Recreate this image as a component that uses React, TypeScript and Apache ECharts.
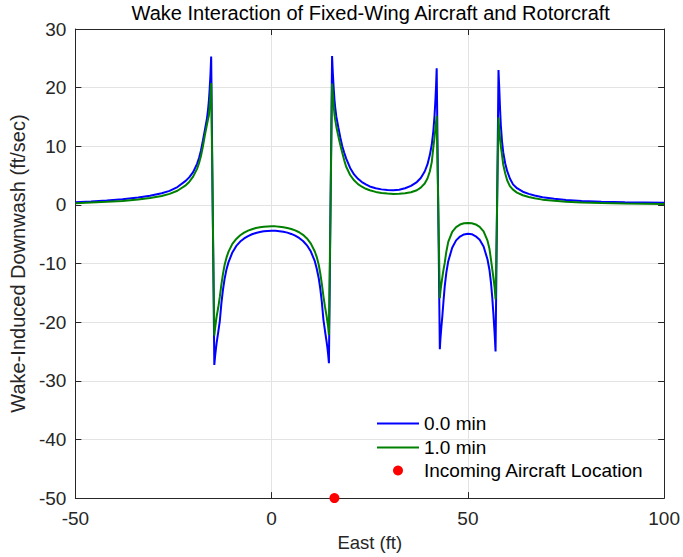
import React, { useEffect, useRef } from "react";
import * as echarts from "echarts";

// East position of each sample (ft)
const eastFt = [
  -50, -46, -42, -38, -34, -31, -28, -26, -24, -22, -21, -20, -19, -18.5, -18, -17.5, -17, -16.5, -16.2, -16, -15.8, -15.6, -15.5, -15.4,
  -14.6, -14.4, -14.2, -14.0, -13.6, -13.2, -12.8, -12.4, -12, -11.5, -11,
  -10, -9, -8, -7, -6, -5, -4, -3, -2, -1, 0, 1, 2, 3, 4, 5, 6, 7, 8, 9, 10,
  11, 11.5, 12, 12.4, 12.8, 13.2, 13.6, 14.0, 14.2, 14.4, 14.6,
  15.4, 15.5, 15.6, 15.8, 16.0, 16.2, 16.5, 17, 17.5, 18, 18.5, 19,
  20, 21, 22, 23, 24, 25,
  26.5, 28, 29.5, 31, 32.5, 34, 35.5, 37, 38, 39,
  39.7, 40.3, 40.8, 41.2, 41.5, 41.75, 41.9, 42.05,
  42.85, 43.0, 43.2, 43.5, 43.8, 44.1, 44.5, 45,
  46, 47, 48, 49, 50, 51, 52, 53, 54, 55,
  55.5, 55.9, 56.2, 56.5, 56.8, 57.05,
  57.8, 57.9, 58.0, 58.2, 58.4, 58.7, 59.0, 59.5, 60, 60.7, 61.5, 62.5,
  64, 65.5, 67, 69, 72, 75, 79, 84, 90, 95, 100,
];

// Wake-induced downwash at t = 0.0 min (ft/sec)
const downwash0 = [
  0.45, 0.58, 0.74, 0.95, 1.25, 1.55, 2.0, 2.4, 3.05, 4.05, 4.7, 5.6, 7.0, 8.0, 9.3, 11.0, 12.8, 14.6, 16.2, 17.6, 19.6, 22.0, 23.6, 25.3,
  -27.3, -25.8, -24.6, -23.5, -21.7, -19.8, -16.8, -14.5, -12.7, -11.0, -9.8,
  -8.1, -7.0, -6.25, -5.72, -5.32, -5.0, -4.78, -4.62, -4.5, -4.43, -4.41, -4.42, -4.48, -4.58, -4.73, -4.95, -5.24, -5.63, -6.15, -6.89, -7.96,
  -9.6, -10.9, -12.5, -14.3, -16.6, -19.6, -21.5, -23.3, -24.3, -25.5, -27.0,
  25.4, 23.8, 22.4, 20.0, 18.0, 16.6, 15.0, 13.2, 11.5, 10.0, 8.9, 7.9,
  6.3, 5.2, 4.45, 3.9, 3.5, 3.15,
  2.85, 2.65, 2.55, 2.52, 2.6, 2.85, 3.25, 3.9, 4.6, 5.7,
  6.9, 8.5, 10.3, 12.6, 15.2, 18.2, 20.4, 23.3,
  -24.6, -22.9, -21.2, -18.9, -16.3, -13.9, -11.6, -9.6,
  -7.3, -6.05, -5.4, -5.03, -4.9, -5.0, -5.35, -5.95, -7.1, -9.3,
  -11.1, -13.4, -15.7, -18.6, -21.8, -25.0,
  23.0, 21.3, 19.8, 16.3, 13.5, 10.8, 9.0, 7.1, 5.8, 4.5, 3.5, 2.85,
  2.25, 1.88, 1.6, 1.32, 1.05, 0.85, 0.68, 0.56, 0.47, 0.42, 0.38,
];

// Wake-induced downwash at t = 1.0 min (ft/sec)
const downwash1 = [
  0.28, 0.4, 0.52, 0.68, 0.92, 1.17, 1.53, 1.88, 2.42, 3.28, 3.92, 4.82, 6.15, 7.1, 8.35, 10.0, 11.9, 13.6, 14.6, 15.2, 16.6, 18.6, 19.8, 20.8,
  -22.3, -21.0, -20.0, -19.0, -17.5, -15.7, -13.6, -11.8, -10.3, -9.0, -8.0,
  -6.65, -5.8, -5.18, -4.72, -4.38, -4.14, -3.95, -3.82, -3.73, -3.67, -3.65, -3.66, -3.71, -3.8, -3.93, -4.1, -4.34, -4.66, -5.1, -5.71, -6.6,
  -7.95, -8.9, -10.2, -11.7, -13.5, -15.6, -17.4, -18.9, -19.9, -20.8, -22.2,
  20.7, 19.8, 18.8, 17.0, 15.5, 14.5, 13.3, 11.7, 10.2, 8.9, 7.6, 6.5,
  5.1, 4.2, 3.55, 3.1, 2.75, 2.5,
  2.22, 2.05, 1.93, 1.88, 1.9, 1.98, 2.15, 2.5, 2.95, 3.65,
  4.5, 5.7, 7.3, 9.8, 11.5, 13.2, 14.2, 15.2,
  -15.9, -14.8, -13.7, -12.3, -11.0, -9.9, -8.0, -6.3,
  -4.6, -3.78, -3.35, -3.14, -3.08, -3.13, -3.33, -3.74, -4.5, -6.1,
  -7.5, -9.4, -10.9, -12.4, -14.0, -16.1,
  14.9, 13.7, 12.8, 11.3, 10.0, 8.5, 6.9, 5.4, 4.2, 3.2, 2.6, 2.1,
  1.65, 1.35, 1.12, 0.9, 0.7, 0.55, 0.43, 0.33, 0.25, 0.2, 0.16,
];

// Incoming aircraft position [east ft, downwash ft/sec]
const aircraftEast = [16];
const aircraftLevel = [-50];

const seriesNames = ["0.0 min", "1.0 min", "Incoming Aircraft Location"];

const FONT = "'Liberation Sans', Arial, Helvetica, sans-serif";
const INK = "#262626";
const GRID_LINE = "#e3e3e3";

export default function App() {
  const ref = useRef<HTMLDivElement>(null);

  useEffect(() => {
    if (!ref.current) return;
    const chart = echarts.init(ref.current, undefined, { renderer: "svg" });

    const line0 = eastFt.map((x, i) => [x, downwash0[i]]);
    const line1 = eastFt.map((x, i) => [x, downwash1[i]]);
    const marker = aircraftEast.map((x, i) => [x, aircraftLevel[i]]);

    const gridLeft = 73;
    const gridRight = 14.5;
    const gridTop = 29;
    const gridBottom = 58.5;
    const plotCenterX = gridLeft + (683 - gridLeft - gridRight) / 2;

    const frameAxis = {
      axisLine: { show: true, onZero: false, lineStyle: { color: INK, width: 1 } },
      axisTick: { show: true, inside: true, length: 6, lineStyle: { color: INK } },
      axisLabel: { show: false },
      splitLine: { show: false },
    };

    const legendText = { fontFamily: FONT, fontSize: 19, color: "#000" };

    chart.setOption({
      animation: false,
      backgroundColor: "#ffffff",
      grid: { left: gridLeft, right: gridRight, top: gridTop, bottom: gridBottom, containLabel: false },
      graphic: [
        {
          type: "text",
          x: plotCenterX,
          y: 13,
          style: {
            text: "Wake Interaction of Fixed-Wing Aircraft and Rotorcraft",
            font: `20px ${FONT}`,
            fill: "#000",
            textAlign: "center",
            textVerticalAlign: "middle",
          },
        },
      ],
      xAxis: [
        {
          type: "value",
          min: -50,
          max: 100,
          interval: 50,
          position: "bottom",
          name: "East (ft)",
          nameLocation: "middle",
          nameGap: 33,
          nameTextStyle: { fontFamily: FONT, fontSize: 18.5, color: INK },
          axisLine: { show: true, onZero: false, lineStyle: { color: INK, width: 1 } },
          axisTick: { show: true, inside: true, length: 6, lineStyle: { color: INK } },
          axisLabel: { fontFamily: FONT, fontSize: 19, color: INK, margin: 11 },
          splitLine: { show: true, lineStyle: { color: GRID_LINE, width: 1 } },
        },
        { type: "value", min: -50, max: 100, interval: 50, position: "top", ...frameAxis },
      ],
      yAxis: [
        {
          type: "value",
          min: -50,
          max: 30,
          interval: 10,
          position: "left",
          name: "Wake-Induced Downwash (ft/sec)",
          nameLocation: "middle",
          nameRotate: 90,
          nameGap: 39,
          nameTextStyle: { fontFamily: FONT, fontSize: 20, color: INK },
          axisLine: { show: true, onZero: false, lineStyle: { color: INK, width: 1 } },
          axisTick: { show: true, inside: true, length: 6, lineStyle: { color: INK } },
          axisLabel: { fontFamily: FONT, fontSize: 19, color: INK, margin: 9 },
          splitLine: { show: true, lineStyle: { color: GRID_LINE, width: 1 } },
        },
        { type: "value", min: -50, max: 30, interval: 10, position: "right", ...frameAxis },
      ],
      legend: [
        {
          orient: "vertical",
          left: 377,
          top: 414,
          icon: "rect",
          itemWidth: 42,
          itemHeight: 2,
          itemGap: 5,
          padding: 0,
          data: [seriesNames[0], seriesNames[1]],
          textStyle: legendText,
        },
        {
          orient: "vertical",
          left: 393,
          top: 461,
          icon: "circle",
          itemWidth: 42,
          itemHeight: 10,
          padding: 0,
          data: [seriesNames[2]],
          textStyle: legendText,
        },
      ],
      series: [
        {
          name: seriesNames[0],
          type: "line",
          data: line0,
          symbol: "none",
          showSymbol: false,
          lineStyle: { color: "#0000ff", width: 2 },
          itemStyle: { color: "#0000ff" },
          z: 2,
        },
        {
          name: seriesNames[1],
          type: "line",
          data: line1,
          symbol: "none",
          showSymbol: false,
          lineStyle: { color: "#008000", width: 2 },
          itemStyle: { color: "#008000" },
          z: 3,
        },
        {
          name: seriesNames[2],
          type: "scatter",
          data: marker,
          symbol: "circle",
          symbolSize: 10,
          clip: false,
          itemStyle: { color: "#ff0000", opacity: 1 },
          z: 10,
        },
      ],
    });

    return () => chart.dispose();
  }, []);

  return (
    <div
      ref={ref}
      style={{ position: "fixed", left: 0, top: 0, width: 683, height: 557, background: "#fff" }}
    />
  );
}
